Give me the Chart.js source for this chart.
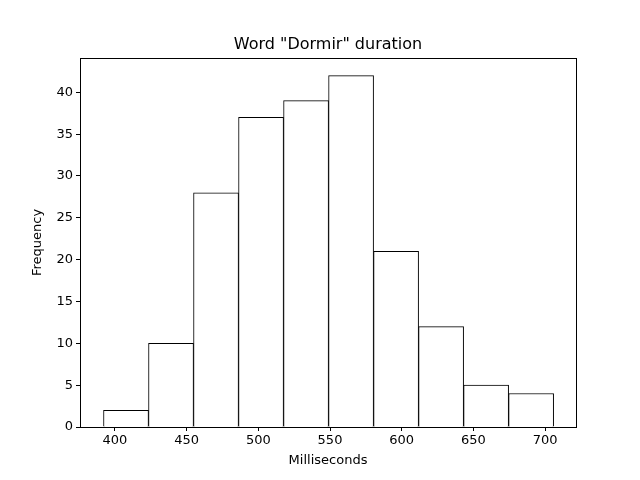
<!DOCTYPE html>
<html>
<head>
<meta charset="utf-8">
<script src="https://cdn.jsdelivr.net/npm/chart.js@4"></script>
<style>
  html, body { margin: 0; padding: 0; background: #fff; }
  #wrap { width: 640px; height: 480px; }
</style>
</head>
<body>
<div id="wrap"><canvas id="hist" width="640" height="480"></canvas></div>
<script>
// Histogram bins (ms) and counts
const binStart = 392;
const binWidth = 31.4;
const counts   = [2, 10, 28, 37, 39, 42, 21, 12, 5, 4];
const xTicks   = [400, 450, 500, 550, 600, 650, 700];
const yTicks   = [0, 5, 10, 15, 20, 25, 30, 35, 40];

const points = counts.map((c, i) => ({ x: binStart + binWidth * (i + 0.5), y: c }));

const font = { family: 'DejaVu Sans', size: 13 };

// frame around the plot area + title
const framePlugin = {
  id: 'frame',
  afterDraw(chart) {
    const { ctx, chartArea: a } = chart;
    ctx.save();
    ctx.strokeStyle = '#000';
    ctx.lineWidth = 1;
    ctx.strokeRect(a.left + 0.5, a.top + 0.5, a.right - a.left, a.bottom - a.top);
    ctx.fillStyle = '#000';
    ctx.font = '16px "DejaVu Sans"';
    ctx.textAlign = 'center';
    ctx.textBaseline = 'alphabetic';
    ctx.fillText('Word "Dormir" duration', (a.left + a.right) / 2, a.top - 9);
    ctx.restore();
  }
};

new Chart(document.getElementById('hist'), {
  type: 'bar',
  data: {
    datasets: [{
      data: points,
      backgroundColor: '#ffffff',
      borderColor: '#000000',
      borderWidth: 1,
      barPercentage: 1,
      categoryPercentage: 1,
    }],
  },
  options: {
    responsive: false,
    animation: false,
    layout: { padding: { left: 30, right: 64, top: 58, bottom: 12 } },
    plugins: { legend: { display: false }, tooltip: { enabled: false } },
    scales: {
      x: {
        type: 'linear',
        offset: false,
        min: 375.6, max: 721.6,
        afterFit: s => { s.height = 41; },
        afterBuildTicks: s => { s.ticks = xTicks.map(v => ({ value: v })); },
        grid: { display: true, offset: false, drawOnChartArea: false, color: '#000', tickLength: 4 },
        border: { display: false },
        ticks: { color: '#000', font, padding: 2 },
        title: { display: true, text: 'Milliseconds', color: '#000', font, padding: 0 },
      },
      y: {
        min: 0, max: 44.1,
        afterFit: s => { s.width = 50; },
        afterBuildTicks: s => { s.ticks = yTicks.map(v => ({ value: v })); },
        grid: { display: true, drawOnChartArea: false, color: '#000', tickLength: 4 },
        border: { display: false },
        ticks: { color: '#000', font, padding: 3 },
        title: { display: true, text: 'Frequency', color: '#000', font, padding: 0 },
      },
    },
  },
  plugins: [framePlugin],
});
</script>
</body>
</html>
